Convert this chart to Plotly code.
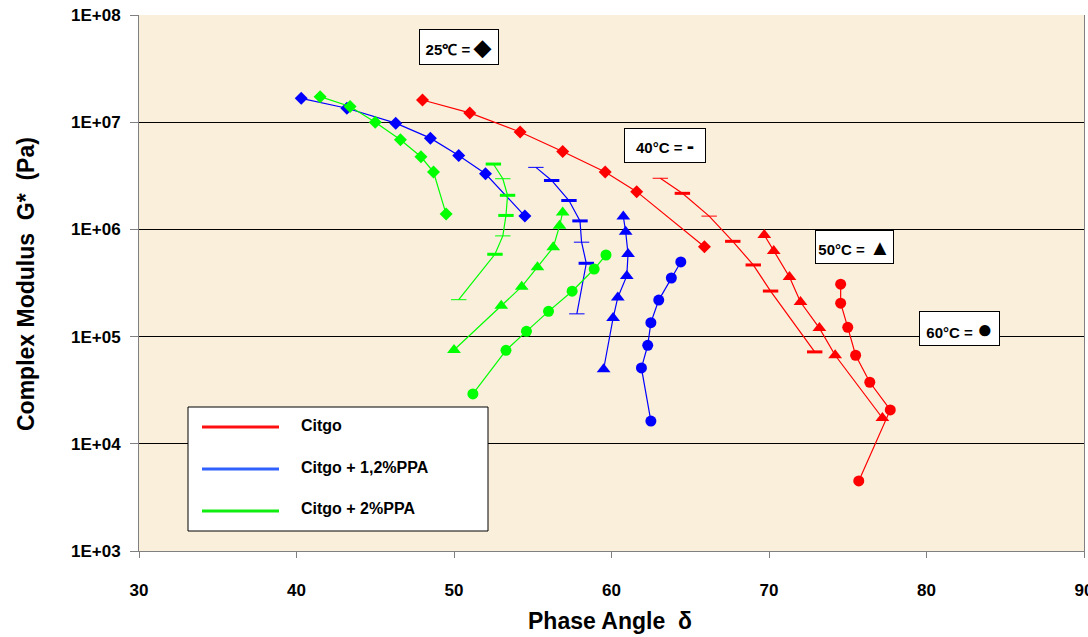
import plotly.graph_objects as go

# ---- data: phase angle (deg) and complex modulus G* (Pa) ----
# Citgo
citgo_25_x = [48.0, 51.0, 54.2, 56.9, 59.6, 61.6, 65.9]
citgo_25_y = [1.61e7, 1.22e7, 8.1e6, 5.33e6, 3.43e6, 2.25e6, 6.9e5]
citgo_40_x = [63.1, 64.5, 66.2, 67.7, 69.0, 70.1, 72.9]
citgo_40_y = [3.0e6, 2.17e6, 1.33e6, 7.74e5, 4.66e5, 2.66e5, 7.2e4]
citgo_50_x = [69.7, 70.3, 71.3, 72.0, 73.2, 74.2, 77.2]
citgo_50_y = [8.87e5, 6.29e5, 3.6e5, 2.1e5, 1.2e5, 6.7e4, 1.74e4]
citgo_60_x = [74.55, 74.55, 75.0, 75.5, 76.4, 77.7, 75.7]
citgo_60_y = [3.08e5, 2.05e5, 1.22e5, 6.7e4, 3.75e4, 2.07e4, 4.5e3]

# Citgo + 1,2% PPA
ppa12_25_x = [40.3, 43.2, 46.3, 48.5, 50.3, 52.0, 54.5]
ppa12_25_y = [1.67e7, 1.35e7, 9.8e6, 7.1e6, 4.9e6, 3.3e6, 1.33e6]
ppa12_40_x = [55.2, 56.2, 57.3, 58.0, 58.1, 58.4, 57.8]
ppa12_40_y = [3.79e6, 2.86e6, 1.86e6, 1.2e6, 7.6e5, 4.83e5, 1.63e5]
ppa12_50_x = [60.75, 60.9, 61.05, 60.97, 60.4, 60.1, 59.5]
ppa12_50_y = [1.32e6, 9.5e5, 5.9e5, 3.68e5, 2.32e5, 1.49e5, 4.96e4]
ppa12_60_x = [64.4, 63.8, 63.0, 62.5, 62.3, 61.9, 62.5]
ppa12_60_y = [4.97e5, 3.52e5, 2.19e5, 1.35e5, 8.3e4, 5.1e4, 1.63e4]

# Citgo + 2% PPA
ppa2_25_x = [41.5, 43.4, 45.0, 46.6, 47.9, 48.7, 49.5]
ppa2_25_y = [1.73e7, 1.4e7, 9.98e6, 6.87e6, 4.76e6, 3.43e6, 1.39e6]
ppa2_40_x = [52.5, 53.1, 53.4, 53.3, 53.1, 52.6, 50.3]
ppa2_40_y = [4.07e6, 2.97e6, 2.08e6, 1.35e6, 8.7e5, 5.86e5, 2.21e5]
ppa2_50_x = [56.9, 56.7, 56.3, 55.3, 54.3, 53.0, 50.0]
ppa2_50_y = [1.44e6, 1.08e6, 6.8e5, 4.43e5, 2.92e5, 1.94e5, 7.5e4]
ppa2_60_x = [59.65, 58.9, 57.5, 56.0, 54.6, 53.3, 51.2]
ppa2_60_y = [5.77e5, 4.27e5, 2.65e5, 1.72e5, 1.12e5, 7.45e4, 2.92e4]

# dash-marker stroke weights for the 40 C series
citgo_40_w = [1, 3, 1, 3, 3, 3, 3]
ppa12_40_w = [1, 3, 3, 3, 1, 3, 1]
ppa2_40_w = [3, 1, 3, 3, 1, 3, 1]

legend_names = ["Citgo", "Citgo + 1,2%PPA", "Citgo + 2%PPA"]
y_ticks = [1e3, 1e4, 1e5, 1e6, 1e7, 1e8]
y_ticktext = ["1E+03", "1E+04", "1E+05", "1E+06", "1E+07", "1E+08"]
x_ticks = [30, 40, 50, 60, 70, 80, 90]

RED = "#FF0000"
BLUE = "#0000FF"
GREEN = "#00FF00"
FONT = "Liberation Sans, Arial, sans-serif"

# plot-area geometry in pixels
W, H = 1088, 637
L, R, T, B = 139, 4, 15, 86
PW, PH = W - L - R, H - T - B


def px(x):
    return (x - L) / PW


def py(y):
    return (H - B - y) / PH


fig = go.Figure()


def add_series(xs, ys, color, symbol, size, widths=None):
    if symbol == "line-ew":
        marker = dict(symbol=symbol, size=size, color=color,
                      line=dict(color=color, width=widths))
    else:
        marker = dict(symbol=symbol, size=size, color=color,
                      line=dict(width=0))
    fig.add_trace(go.Scatter(
        x=xs, y=ys, mode="lines+markers",
        line=dict(color=color, width=1.2),
        marker=marker, showlegend=False, hoverinfo="x+y",
    ))


groups = [
    (RED, citgo_25_x, citgo_25_y, citgo_40_x, citgo_40_y, citgo_40_w,
     citgo_50_x, citgo_50_y, citgo_60_x, citgo_60_y),
    (BLUE, ppa12_25_x, ppa12_25_y, ppa12_40_x, ppa12_40_y, ppa12_40_w,
     ppa12_50_x, ppa12_50_y, ppa12_60_x, ppa12_60_y),
    (GREEN, ppa2_25_x, ppa2_25_y, ppa2_40_x, ppa2_40_y, ppa2_40_w,
     ppa2_50_x, ppa2_50_y, ppa2_60_x, ppa2_60_y),
]
for c, x25, y25, x40, y40, w40, x50, y50, x60, y60 in groups:
    add_series(x25, y25, c, "diamond", 10)
    add_series(x40, y40, c, "line-ew", 11, w40)
    add_series(x50, y50, c, "triangle-up", 12)
    add_series(x60, y60, c, "circle", 11)

shapes = []
annotations = []

# legend box with line samples
shapes.append(dict(type="rect", xref="paper", yref="paper",
                   x0=px(188), x1=px(488), y0=py(531), y1=py(407),
                   fillcolor="white", line=dict(color="black", width=1)))
legend_colors = ["#FF1010", "#3060FF", "#10EE10"]
for i, (name, c) in enumerate(zip(legend_names, legend_colors)):
    yy = 427 + i * 42
    shapes.append(dict(type="line", xref="paper", yref="paper",
                       x0=px(202), x1=px(279), y0=py(yy), y1=py(yy),
                       line=dict(color=c, width=3)))
    annotations.append(dict(xref="paper", yref="paper", x=px(299), y=py(yy - 2),
                            text=name, showarrow=False, xanchor="left",
                            yanchor="middle",
                            font=dict(family=FONT, size=16, color="black",
                                      weight="bold")))

# temperature keys
keys = [
    ("25\u2103 = <span style='font-size:22px'>\u25C6</span>", 459, 47, 76, 32),
    ("40\u00B0C = <span style='font-size:22px'>-</span>", 665, 145.5, 78, 31),
    ("50\u00B0C = <span style='font-size:22px'>\u25B2</span>", 854.5, 247, 75, 30),
    ("60\u00B0C = <span style='font-size:26px'>\u25CF</span>", 959.5, 328.5, 77, 31),
]
for text, cx, cy, w, h in keys:
    annotations.append(dict(xref="paper", yref="paper", x=px(cx), y=py(cy),
                            text=text, showarrow=False, xanchor="center",
                            yanchor="middle", width=w, height=h,
                            bgcolor="white", bordercolor="black",
                            borderwidth=1, borderpad=1,
                            font=dict(family=FONT, size=15, color="black",
                                      weight="bold")))

# axis titles
annotations.append(dict(xref="paper", yref="paper", x=px(26), y=py(284),
                        text="Complex Modulus  G*  (Pa)", textangle=-90,
                        showarrow=False, xanchor="center", yanchor="middle",
                        font=dict(family=FONT, size=23, color="black",
                                  weight="bold")))
annotations.append(dict(xref="paper", yref="paper", x=px(610), y=py(621),
                        text="Phase Angle  \u03B4", showarrow=False,
                        xanchor="center", yanchor="middle",
                        font=dict(family=FONT, size=23, color="black",
                                  weight="bold")))

fig.update_layout(
    width=W, height=H,
    margin=dict(l=L, r=R, t=T, b=B, pad=0, autoexpand=False),
    paper_bgcolor="white",
    plot_bgcolor="#FAEFDB",
    shapes=shapes,
    annotations=annotations,
    xaxis=dict(range=[30, 90], tickvals=x_ticks, showgrid=False,
               zeroline=False, showline=True, linecolor="#808080",
               linewidth=1, ticks="outside", ticklen=6, tickcolor="#808080",
               ticklabelstandoff=18, ticklabeloverflow="allow",
               automargin=False,
               tickfont=dict(family=FONT, size=17, color="black",
                             weight="bold")),
    yaxis=dict(type="log", range=[3, 8], tickvals=y_ticks,
               ticktext=y_ticktext, showgrid=True, gridcolor="black",
               gridwidth=1, zeroline=False, showline=True,
               linecolor="#808080", linewidth=1, mirror=True,
               ticks="outside", ticklen=8, tickcolor="#808080",
               ticklabelstandoff=6, ticklabeloverflow="allow",
               automargin=False,
               tickfont=dict(family=FONT, size=17, color="black",
                             weight="bold")),
)

fig.write_html("out.html")
